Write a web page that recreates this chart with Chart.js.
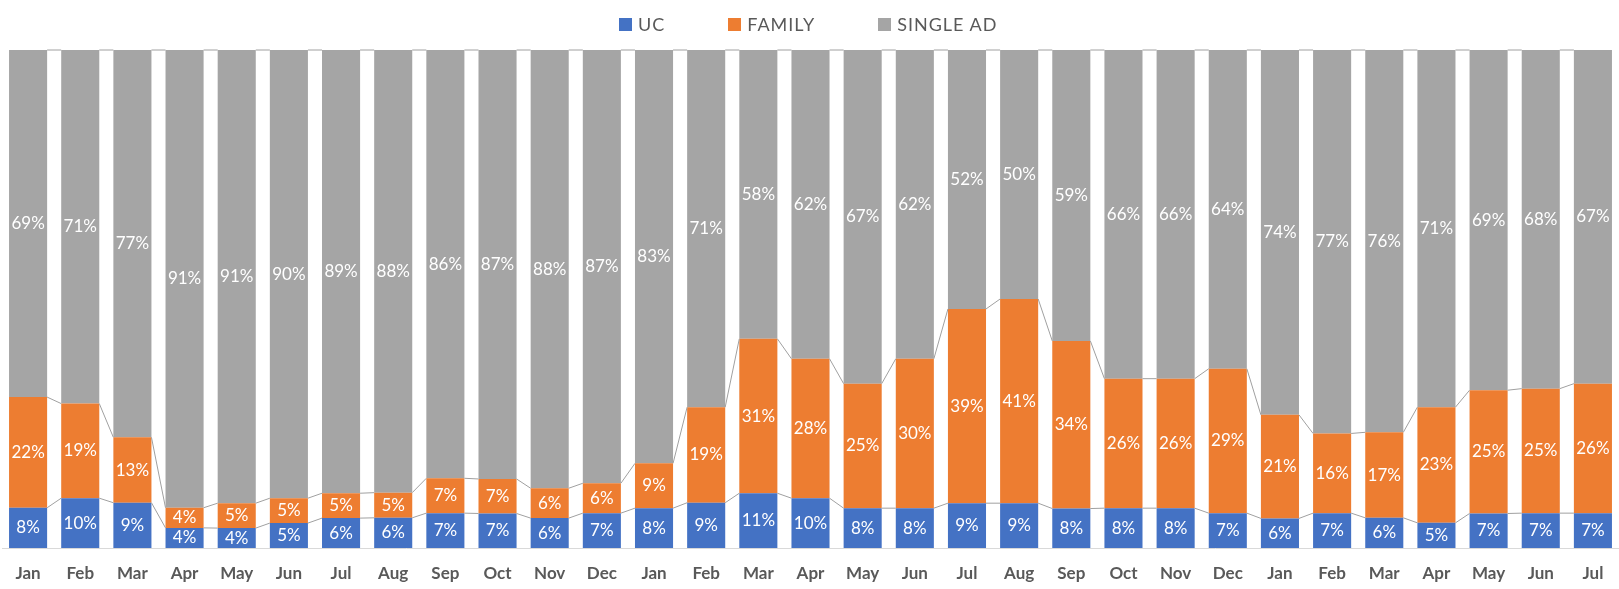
<!DOCTYPE html>
<html lang="en">
<head>
<meta charset="UTF-8">
<title>UC / Family / Single AD</title>
<style>
  html, body { margin: 0; padding: 0; background: #fff; }
  #wrap { position: relative; width: 1619px; height: 589px; }
  #chart { display: block; }
  #legend {
    position: absolute; top: 13px; left: 619px;
    display: flex; gap: 63px; font-family: Lato, sans-serif;
    font-size: 18px; color: #595959; letter-spacing: 1px;
  }
  #legend span.item { display: flex; align-items: center; }
  #legend i { display: inline-block; width: 13px; height: 13px; margin-right: 6px; }
</style>
</head>
<body>
<div id="wrap">
  <canvas id="chart" width="1619" height="589"></canvas>
  <div id="legend"></div>
</div>
<script src="https://cdn.jsdelivr.net/npm/chart.js@4"></script>
<script>
const months = ['Jan','Feb','Mar','Apr','May','Jun','Jul','Aug','Sep','Oct','Nov','Dec',
                'Jan','Feb','Mar','Apr','May','Jun','Jul','Aug','Sep','Oct','Nov','Dec',
                'Jan','Feb','Mar','Apr','May','Jun','Jul'];
const uc = [8,10,9,4,4,5,6,6,7,7,6,7, 8,9,11,10,8,8,9,9,8,8,8,7, 6,7,6,5,7,7,7];
const family = [22,19,13,4,5,5,5,5,7,7,6,6, 9,19,31,28,25,30,39,41,34,26,26,29, 21,16,17,23,25,25,26];
const singleAd = [69,71,77,91,91,90,89,88,86,87,88,87, 83,71,58,62,67,62,52,50,59,66,66,64, 74,77,76,71,69,68,67];

const seriesNames = ['UC', 'FAMILY', 'SINGLE AD'];
const seriesColors = ['#4472C4', '#ED7D31', '#A5A5A5'];
const raw = [uc, family, singleAd];

// 100% stacked: scale each column to its total
const totals = months.map((m, i) => uc[i] + family[i] + singleAd[i]);

// legend (html)
const legend = document.getElementById('legend');
seriesNames.forEach((name, k) => {
  const s = document.createElement('span');
  s.className = 'item';
  s.innerHTML = '<i style="background:' + seriesColors[k] + '"></i>' + name;
  legend.appendChild(s);
});

// series lines + data labels
const overlay = {
  id: 'overlay',
  afterDatasetsDraw(chart) {
    const ctx = chart.ctx;
    ctx.save();
    ctx.strokeStyle = '#a0a0a0';
    ctx.lineWidth = 1;
    chart.data.datasets.forEach((ds, d) => {
      const bars = chart.getDatasetMeta(d).data;
      ctx.beginPath();
      for (let i = 0; i < bars.length - 1; i++) {
        const a = bars[i], b = bars[i + 1];
        ctx.moveTo(a.x + a.width / 2, a.y);
        ctx.lineTo(b.x - b.width / 2, b.y);
      }
      ctx.stroke();
    });
    ctx.fillStyle = '#ffffff';
    ctx.font = '17px Lato, sans-serif';
    ctx.textAlign = 'center';
    ctx.textBaseline = 'middle';
    chart.data.datasets.forEach((ds, d) => {
      chart.getDatasetMeta(d).data.forEach((bar, i) => {
        ctx.fillText(raw[d][i] + '%', bar.x, (bar.y + bar.base) / 2);
      });
    });
    ctx.restore();
  }
};

new Chart(document.getElementById('chart').getContext('2d'), {
  type: 'bar',
  data: {
    labels: months,
    datasets: raw.map((vals, k) => ({
      label: seriesNames[k],
      data: vals.map((v, i) => v / totals[i] * 100),
      backgroundColor: seriesColors[k],
      barPercentage: 0.73,
      categoryPercentage: 1
    }))
  },
  options: {
    responsive: false,
    animation: false,
    layout: { padding: { top: 50, left: 2, right: 0, bottom: 0 } },
    plugins: { legend: { display: false }, tooltip: { enabled: false } },
    scales: {
      x: {
        stacked: true,
        grid: { display: false, drawTicks: false },
        border: { display: true, color: '#d9d9d9', width: 1 },
        ticks: {
          color: '#595959', padding: 15, autoSkip: false, maxRotation: 0,
          font: { family: 'Lato, sans-serif', size: 17, weight: 'bold' }
        },
        afterFit(scale) { scale.height = 41; }
      },
      y: { stacked: true, display: false, min: 0, max: 100 }
    }
  },
  plugins: [overlay]
});
</script>
</body>
</html>
